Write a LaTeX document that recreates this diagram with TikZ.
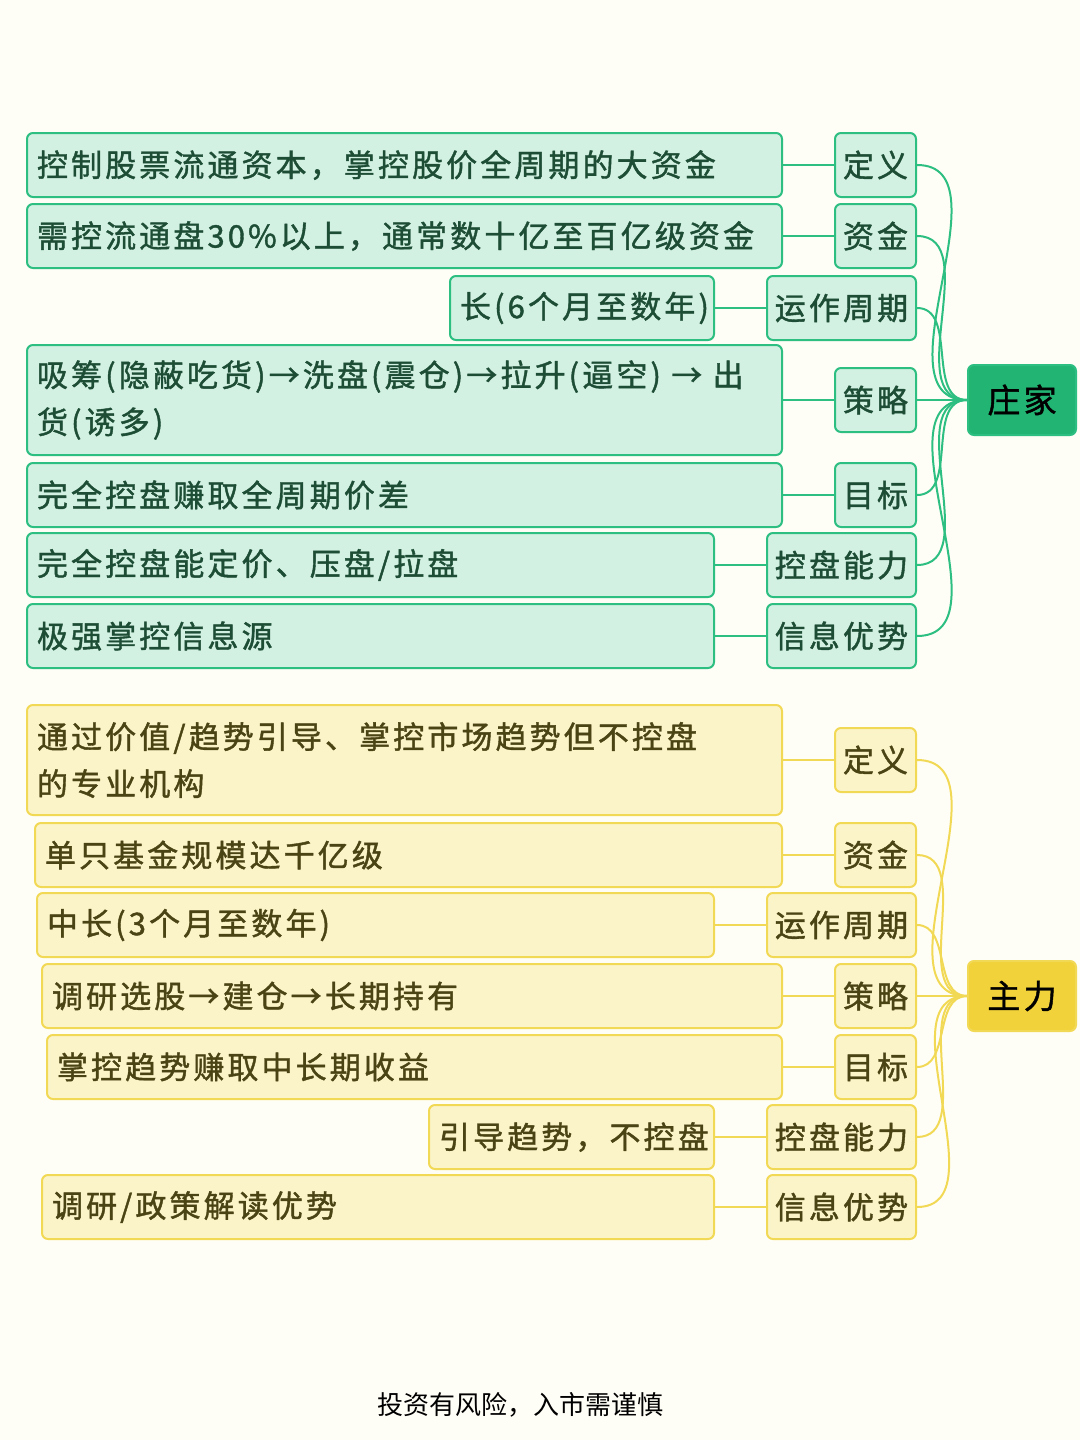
\documentclass[tikz,border=0pt]{standalone}
\usepackage{fontspec}
\setmainfont{Noto Sans CJK SC}
\newfontfamily\zhfont[LetterSpace=10,FakeBold=1.3]{Noto Sans CJK SC}
\usepackage{tikz}
\usetikzlibrary{
  arrows.meta,
  positioning
}
\definecolor{mapBg}{HTML}{FFFEF6}
\definecolor{zjLine}{HTML}{2DBE82}
\definecolor{zjFill}{HTML}{D3F1E3}
\definecolor{zjRoot}{HTML}{22B472}
\definecolor{zjText}{HTML}{1D4D34}
\definecolor{zlLine}{HTML}{F1D955}
\definecolor{zlFill}{HTML}{FCF4C9}
\definecolor{zlRoot}{HTML}{F1D23A}
\definecolor{zlText}{HTML}{4A4314}
\tikzset{
  mapnode/.style={
    draw, rounded corners=3pt, line width=1pt, minimum height=32pt,
    inner xsep=5pt, inner ysep=3pt,
    font=\zhfont\fontsize{15.5}{23.5}\selectfont
  },
  tagnode/.style={mapnode, inner xsep=2pt, anchor=east},
  short/.style={minimum width=40.5pt},
  wide/.style={minimum width=74.5pt},
  zjlabel/.style={tagnode, fill=zjFill, draw=zjLine, text=zjText},
  zjdetail/.style={mapnode, fill=zjFill, draw=zjLine, text=zjText, align=left, text width=#1},
  zjroot/.style={mapnode, fill=zjRoot, draw=zjLine, text=black, minimum width=54pt, minimum height=35pt,
    font=\zhfont\fontsize{16.5}{20}\selectfont},
  zllabel/.style={tagnode, fill=zlFill, draw=zlLine, text=zlText},
  zldetail/.style={mapnode, fill=zlFill, draw=zlLine, text=zlText, align=left, text width=#1},
  zlroot/.style={mapnode, fill=zlRoot, draw=zlLine, text=black, minimum width=54pt, minimum height=35pt,
    font=\zhfont\fontsize{16.5}{20}\selectfont},
  zjlink/.style={line width=1pt, zjLine},
  zllink/.style={line width=1pt, zlLine},
  footer/.style={font=\fontsize{13}{15}\selectfont, text=black}
}

\begin{document}
\begin{tikzpicture}[x=0.5pt, y=-0.5pt]
  \fill[mapBg] (0,0) rectangle (1080,1440);
  \useasboundingbox (0,0) rectangle (1080,1440);

  \node[zjlabel, short] (zj1) at (917,165) {定义};
  \node[zjlabel, short] (zj2) at (917,236) {资金};
  \node[zjlabel, wide] (zj3) at (917,308) {运作周期};
  \node[zjlabel, short] (zj4) at (917,400) {策略};
  \node[zjlabel, short] (zj5) at (917,495) {目标};
  \node[zjlabel, wide] (zj6) at (917,565) {控盘能力};
  \node[zjlabel, wide] (zj7) at (917,636) {信息优势};
  \node[zjroot, right=25pt of zj4] (zj) {庄家};

  \node[zjdetail=367.5pt, left=25.5pt of zj1] (zd1) {控制股票流通资本，掌控股价全周期的大资金};
  \node[zjdetail=367.5pt, left=25.5pt of zj2] (zd2) {需控流通盘30\%以上，通常数十亿至百亿级资金};
  \node[zjdetail=122pt, left=25.5pt of zj3] (zd3) {长(6个月至数年)};
  \node[zjdetail=367.5pt, left=25.5pt of zj4, minimum height=55pt] (zd4) {吸筹(隐蔽吃货)→洗盘(震仓)→拉升(逼空) → 出\\货(诱多)};
  \node[zjdetail=367.5pt, left=25.5pt of zj5] (zd5) {完全控盘赚取全周期价差};
  \node[zjdetail=333.5pt, left=25.5pt of zj6] (zd6) {完全控盘能定价、压盘/拉盘};
  \node[zjdetail=333.5pt, left=25.5pt of zj7] (zd7) {极强掌控信息源};

  \draw[zjlink] (zd1) -- (zj1);
  \draw[zjlink] (zd2) -- (zj2);
  \draw[zjlink] (zd3) -- (zj3);
  \draw[zjlink] (zd4) -- (zj4);
  \draw[zjlink] (zd5) -- (zj5);
  \draw[zjlink] (zd6) -- (zj6);
  \draw[zjlink] (zd7) -- (zj7);
  \draw[zjlink] (zj.west) to[out=180, in=0] (zj1.east);
  \draw[zjlink] (zj.west) to[out=180, in=0] (zj2.east);
  \draw[zjlink] (zj.west) to[out=180, in=0] (zj3.east);
  \draw[zjlink] (zj.west) -- (zj4.east);
  \draw[zjlink] (zj.west) to[out=180, in=0] (zj5.east);
  \draw[zjlink] (zj.west) to[out=180, in=0] (zj6.east);
  \draw[zjlink] (zj.west) to[out=180, in=0] (zj7.east);

  \node[zllabel, short] (zl1) at (917,760) {定义};
  \node[zllabel, short] (zl2) at (917,855) {资金};
  \node[zllabel, wide] (zl3) at (917,925) {运作周期};
  \node[zllabel, short] (zl4) at (917,996) {策略};
  \node[zllabel, short] (zl5) at (917,1067) {目标};
  \node[zllabel, wide] (zl6) at (917,1137) {控盘能力};
  \node[zllabel, wide] (zl7) at (917,1207) {信息优势};
  \node[zlroot, right=25pt of zl4] (zl) {主力};

  \node[zldetail=367.5pt, left=25.5pt of zl1, minimum height=55pt] (zm1) {通过价值/趋势引导、掌控市场趋势但不控盘\\的专业机构};
  \node[zldetail=363.5pt, left=25.5pt of zl2] (zm2) {单只基金规模达千亿级};
  \node[zldetail=328.5pt, left=25.5pt of zl3] (zm3) {中长(3个月至数年)};
  \node[zldetail=360pt, left=25.5pt of zl4] (zm4) {调研选股→建仓→长期持有};
  \node[zldetail=357.5pt, left=25.5pt of zl5] (zm5) {掌控趋势赚取中长期收益};
  \node[zldetail=132.5pt, left=25.5pt of zl6] (zm6) {引导趋势，不控盘};
  \node[zldetail=326pt, left=25.5pt of zl7] (zm7) {调研/政策解读优势};

  \draw[zllink] (zm1) -- (zl1);
  \draw[zllink] (zm2) -- (zl2);
  \draw[zllink] (zm3) -- (zl3);
  \draw[zllink] (zm4) -- (zl4);
  \draw[zllink] (zm5) -- (zl5);
  \draw[zllink] (zm6) -- (zl6);
  \draw[zllink] (zm7) -- (zl7);
  \draw[zllink] (zl.west) to[out=180, in=0] (zl1.east);
  \draw[zllink] (zl.west) to[out=180, in=0] (zl2.east);
  \draw[zllink] (zl.west) to[out=180, in=0] (zl3.east);
  \draw[zllink] (zl.west) -- (zl4.east);
  \draw[zllink] (zl.west) to[out=180, in=0] (zl5.east);
  \draw[zllink] (zl.west) to[out=180, in=0] (zl6.east);
  \draw[zllink] (zl.west) to[out=180, in=0] (zl7.east);

  \node[footer] (tip) at (520,1405) {投资有风险，入市需谨慎};
\end{tikzpicture}
\end{document}
